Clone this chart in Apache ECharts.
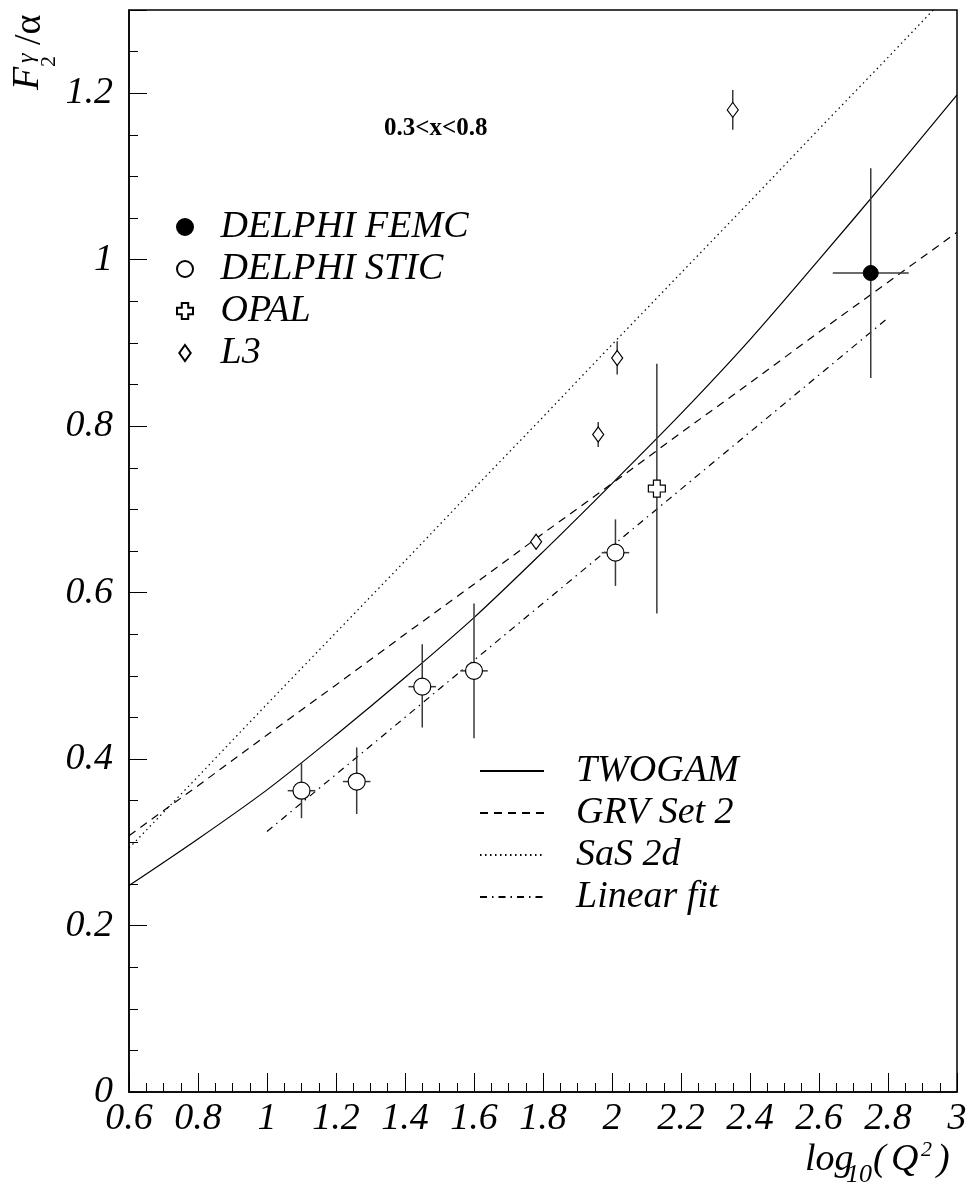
<!DOCTYPE html>
<html><head><meta charset="utf-8">
<script src="https://cdn.jsdelivr.net/npm/echarts@6/dist/echarts.min.js"></script>
<style>html,body{margin:0;padding:0;background:#fff}#c{width:970px;height:1191px}</style>
</head><body><div id="c"></div>
<script>
// ---- data ----
const femcX = [2.75];
const femcY = [0.984];
const femcYlo = [0.858];
const femcYhi = [1.110];
const femcXerr = [0.11];

const sticX = [1.10, 1.26, 1.45, 1.60, 2.01];
const sticY = [0.362, 0.373, 0.487, 0.506, 0.648];
const sticYlo = [0.329, 0.334, 0.438, 0.425, 0.608];
const sticYhi = [0.395, 0.414, 0.538, 0.587, 0.688];
const sticXerr = [0.04, 0.04, 0.04, 0.04, 0.04];

const opalX = [2.13];
const opalY = [0.725];
const opalYlo = [0.575];
const opalYhi = [0.875];
const opalXerr = [0];

const l3X = [1.78, 1.96, 2.015, 2.35];
const l3Y = [0.661, 0.790, 0.882, 1.180];
const l3Ylo = [0.652, 0.775, 0.862, 1.156];
const l3Yhi = [0.670, 0.805, 0.902, 1.204];
const l3Xerr = [0, 0, 0, 0];

const curveX = [0.6, 0.8, 1.0, 1.2, 1.4, 1.6, 1.8, 2.0, 2.2, 2.4, 2.6, 2.8, 3.0];
const twogamY = [0.248, 0.304, 0.363, 0.429, 0.498, 0.570, 0.649, 0.731, 0.815, 0.904, 1.000, 1.098, 1.198];
const grvY = [0.308, 0.368, 0.429, 0.489, 0.550, 0.610, 0.671, 0.731, 0.792, 0.852, 0.913, 0.973, 1.033];
const sasY = [0.293, 0.379, 0.466, 0.552, 0.638, 0.725, 0.811, 0.898, 0.984, 1.070, 1.157, 1.243, 1.330];
const fitX = [1.0, 2.8];
const fitY = [0.313, 0.930];

const xMin = 0.6, xMax = 3.0, xStep = 0.2;
const yMin = 0, yMax = 1.3, yStep = 0.2, yMinorStep = 0.05;

const seriesNames = ['DELPHI FEMC', 'DELPHI STIC', 'OPAL', 'L3'];
const curveNames = ['TWOGAM', 'GRV Set 2', 'SaS 2d', 'Linear fit'];
const rangeText = '0.3<x<0.8';

// ---- chart ----
const FONT = '"Liberation Serif", "Times New Roman", serif';
const chart = echarts.init(document.getElementById('c'), null, {renderer: 'canvas'});

function pairs(xs, ys) { return xs.map((x, i) => [x, ys[i]]); }

function errSeries(name, xs, ys, lo, hi, xe) {
  return {
    type: 'custom', name: name, silent: true, z: 3,
    data: xs.map((x, i) => [x, ys[i], lo[i], hi[i], xe[i]]),
    encode: {x: 0, y: 1},
    renderItem: function (params, api) {
      const x = api.value(0), y = api.value(1), l = api.value(2), h = api.value(3), e = api.value(4);
      const a = api.coord([x, l]), b = api.coord([x, h]);
      const st = {stroke: '#3a3a3a', lineWidth: 1.5};
      const ch = [{type: 'line', shape: {x1: a[0], y1: a[1], x2: b[0], y2: b[1]}, style: st}];
      if (e > 0) {
        const c = api.coord([x - e, y]), d = api.coord([x + e, y]);
        ch.push({type: 'line', shape: {x1: c[0], y1: c[1], x2: d[0], y2: d[1]}, style: st});
      }
      return {type: 'group', children: ch};
    }
  };
}

const plusPath = 'path://M3,0 L7,0 L7,3 L10,3 L10,7 L7,7 L7,10 L3,10 L3,7 L0,7 L0,3 L3,3 Z';
const diamondPath = 'path://M5,0 L10,7 L5,14 L0,7 Z';

const lineBase = {type: 'line', symbol: 'none', silent: true, z: 2, clip: true};

const option = {
  animation: false,
  backgroundColor: '#fff',
  title: {
    text: rangeText, left: 384, top: 116, padding: 0,
    textStyle: {fontFamily: FONT, fontWeight: 'bold', fontSize: 25, color: '#000'}
  },
  grid: {left: 129, right: 13, top: 10, bottom: 99, show: true, borderColor: '#000', borderWidth: 1.5},
  xAxis: {
    type: 'value', min: xMin, max: xMax, interval: xStep,
    axisLine: {lineStyle: {color: '#000', width: 1.5}},
    axisTick: {inside: true, length: 19, lineStyle: {color: '#000', width: 1}},
    minorTick: {show: true, splitNumber: 4, length: 9, lineStyle: {color: '#000', width: 1}},
    splitLine: {show: false},
    axisLabel: {fontFamily: FONT, fontStyle: 'italic', fontSize: 38, color: '#000', margin: 8,
      formatter: v => String(Math.round(v * 10) / 10)}
  },
  yAxis: [{
    type: 'value', min: yMin, max: yMax, interval: yStep,
    axisLine: {lineStyle: {color: '#000', width: 1.5}},
    axisTick: {inside: true, length: 18, lineStyle: {color: '#000', width: 1}},
    splitLine: {show: false},
    axisLabel: {fontFamily: FONT, fontStyle: 'italic', fontSize: 38, color: '#000', margin: 16,
      formatter: v => (Math.abs(v - yMax) < 1e-6 ? '' : String(Math.round(v * 10) / 10))}
  }, {
    type: 'value', min: yMin, max: yMax, interval: yMinorStep, position: 'left', offset: 0,
    axisLine: {show: false},
    axisTick: {inside: true, length: 9, lineStyle: {color: '#000', width: 1}},
    axisLabel: {show: false},
    splitLine: {show: false}
  }],
  legend: [{
    data: seriesNames, orient: 'vertical', left: 176, top: 208, padding: 0,
    itemWidth: 17, itemHeight: 16, itemGap: 4, selectedMode: false,
    textStyle: {fontFamily: FONT, fontStyle: 'italic', fontSize: 38, color: '#000', lineHeight: 38,
      padding: [0, 0, 0, 22]}
  }, {
    data: curveNames, orient: 'vertical', left: 479, top: 752, padding: 0,
    itemWidth: 64, itemHeight: 16, itemGap: 4, selectedMode: false,
    itemStyle: {color: 'rgba(0,0,0,0)', borderColor: 'rgba(0,0,0,0)', borderWidth: 0},
    textStyle: {fontFamily: FONT, fontStyle: 'italic', fontSize: 38, color: '#000', lineHeight: 38,
      padding: [0, 0, 0, 27]}
  }],
  series: [
    Object.assign({}, lineBase, {name: 'TWOGAM', data: pairs(curveX, twogamY), smooth: 0.3,
      lineStyle: {color: '#000', width: 1.2, type: 'solid'}, itemStyle: {color: '#000'}}),
    Object.assign({}, lineBase, {name: 'GRV Set 2', data: pairs(curveX, grvY),
      lineStyle: {color: '#000', width: 1.2, type: [8, 6]}, itemStyle: {color: '#000'}}),
    Object.assign({}, lineBase, {name: 'SaS 2d', data: pairs(curveX, sasY),
      lineStyle: {color: '#000', width: 1.2, type: [1.5, 3.5]}, itemStyle: {color: '#000'}}),
    Object.assign({}, lineBase, {name: 'Linear fit', data: pairs(fitX, fitY),
      lineStyle: {color: '#000', width: 1.2, type: [7, 5, 1.5, 5]}, itemStyle: {color: '#000'}}),
    errSeries('femcErr', femcX, femcY, femcYlo, femcYhi, femcXerr),
    errSeries('sticErr', sticX, sticY, sticYlo, sticYhi, sticXerr),
    errSeries('opalErr', opalX, opalY, opalYlo, opalYhi, opalXerr),
    errSeries('l3Err', l3X, l3Y, l3Ylo, l3Yhi, l3Xerr),
    {type: 'scatter', name: 'DELPHI FEMC', data: pairs(femcX, femcY), symbol: 'circle', symbolSize: 15, z: 5,
      itemStyle: {color: '#000', borderColor: '#000', borderWidth: 1, opacity: 1}},
    {type: 'scatter', name: 'DELPHI STIC', data: pairs(sticX, sticY), symbol: 'circle', symbolSize: 17, z: 5,
      itemStyle: {color: '#fff', borderColor: '#000', borderWidth: 1.2, opacity: 1}},
    {type: 'scatter', name: 'OPAL', data: pairs(opalX, opalY), symbol: plusPath, symbolSize: 17, z: 5,
      itemStyle: {color: '#fff', borderColor: '#000', borderWidth: 1.2, opacity: 1}},
    {type: 'scatter', name: 'L3', data: pairs(l3X, l3Y), symbol: diamondPath, symbolSize: [11, 15],
      symbolKeepAspect: false, z: 5,
      itemStyle: {color: '#fff', borderColor: '#000', borderWidth: 1.2, opacity: 1}}
  ],
  graphic: [
    {type: 'group', x: 0, y: 90, rotation: Math.PI / 2, children: [
      {type: 'text', x: 0, y: 28, style: {text: 'F', font: 'italic 38px ' + FONT, fill: '#000', verticalAlign: 'middle'}},
      {type: 'text', x: 27, y: 27, style: {text: 'γ', font: 'italic 24px ' + FONT, fill: '#000', verticalAlign: 'middle'}},
      {type: 'text', x: 23, y: 49, style: {text: '2', font: '22px ' + FONT, fill: '#000', verticalAlign: 'middle'}},
      {type: 'text', x: 45, y: 30, style: {text: '/α', font: '38px ' + FONT, fill: '#000', verticalAlign: 'middle'}}
    ]},
    {type: 'group', x: 0, y: 0, children: [
      {type: 'text', x: 805, y: 1160, style: {text: 'log', font: 'italic 38px ' + FONT, fill: '#000', verticalAlign: 'middle'}},
      {type: 'text', x: 846, y: 1175, style: {text: '10', font: 'italic 26px ' + FONT, fill: '#000', verticalAlign: 'middle'}},
      {type: 'text', x: 873, y: 1160, style: {text: '(', font: 'italic 38px ' + FONT, fill: '#000', verticalAlign: 'middle'}},
      {type: 'text', x: 891, y: 1160, style: {text: 'Q', font: 'italic 38px ' + FONT, fill: '#000', verticalAlign: 'middle'}},
      {type: 'text', x: 921, y: 1150, style: {text: '2', font: 'italic 22px ' + FONT, fill: '#000', verticalAlign: 'middle'}},
      {type: 'text', x: 937, y: 1160, style: {text: ')', font: 'italic 38px ' + FONT, fill: '#000', verticalAlign: 'middle'}}
    ]}
  ]
};
chart.setOption(option);
</script>
</body></html>
